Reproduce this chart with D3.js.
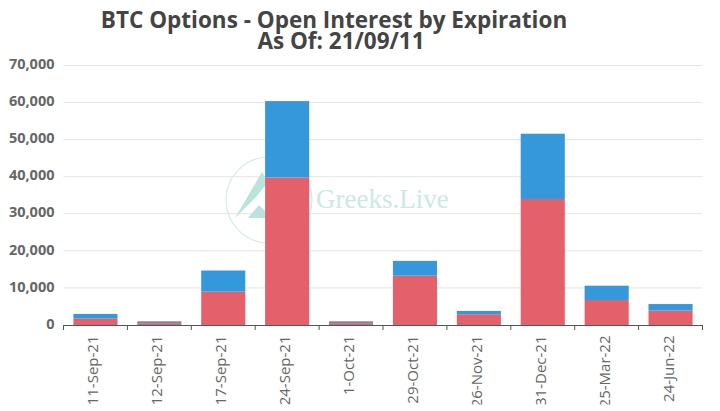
<!DOCTYPE html>
<html>
<head>
<meta charset="utf-8">
<script src="https://cdn.jsdelivr.net/npm/d3@7"></script>
<style>
  html, body { margin: 0; padding: 0; background: #fff; overflow: hidden; }
</style>
</head>
<body>
<div id="chart"></div>
<script>
const expiries = ['11-Sep-21', '12-Sep-21', '17-Sep-21', '24-Sep-21', '1-Oct-21', '29-Oct-21', '26-Nov-21', '31-Dec-21', '25-Mar-22', '24-Jun-22'];
const redValues = [1800, 500, 9000, 39800, 500, 13300, 2900, 34000, 6750, 3900];
const blueValues = [1200, 500, 5700, 20600, 500, 4000, 900, 17600, 3850, 1750];
const yTicks = [0, 10000, 20000, 30000, 40000, 50000, 60000, 70000];
const titleLines = ['BTC Options - Open Interest by Expiration', 'As Of: 21/09/11'];

const RED = '#e4606a';
const BLUE = '#3498db';
const THIN = '#a3778f'; // the two colours run together on the tiniest bars

const width = 720, height = 411;
const margin = { top: 65.5, right: 17.5, bottom: 86, left: 63.5 };
const font = '"Open Sans", "Noto Sans", sans-serif';

const svg = d3.select('#chart').append('svg')
  .attr('width', width).attr('height', height)
  .style('display', 'block');

// the x labels are cut off just above the bottom edge
svg.append('clipPath').attr('id', 'label-clip').append('rect')
  .attr('x', 0).attr('y', 0).attr('width', width).attr('height', 404.5);

const x = d3.scaleBand().domain(expiries).range([margin.left, width - margin.right]).paddingInner(0.31).paddingOuter(0.155);
const y = d3.scaleLinear().domain([0, 70000]).range([height - margin.bottom, margin.top]);

// gridlines
svg.append('g').selectAll('line').data(yTicks.slice(1)).enter().append('line')
  .attr('x1', margin.left).attr('x2', width - margin.right)
  .attr('y1', d => y(d)).attr('y2', d => y(d))
  .attr('stroke', '#e4e4e4').attr('stroke-width', 1);

// watermark sits behind the bars
const mark = svg.append('g');
mark.append('circle').attr('cx', 269).attr('cy', 200).attr('r', 43)
  .attr('fill', 'none').attr('stroke', '#d3ece8').attr('stroke-width', 1.2);
mark.append('path').attr('d', 'M262,172 L235,218 L256,197 L268,182 Z').attr('fill', '#b8e4dd');
mark.append('path').attr('d', 'M248,218 L259,205 L272,218 Z').attr('fill', '#b8e4dd');
mark.append('text').attr('x', 316).attr('y', 208)
  .style('font-family', '"Liberation Serif", serif').style('font-size', '27px')
  .style('fill', '#cbe9e4').text('Greeks.Live');

// bars
const isThin = i => redValues[i] + blueValues[i] < 1500;
const bars = svg.append('g');
bars.selectAll('.red').data(expiries).enter().append('rect')
  .attr('x', d => x(d)).attr('width', x.bandwidth())
  .attr('y', (_, i) => y(redValues[i]))
  .attr('height', (_, i) => y(0) - y(redValues[i]))
  .attr('fill', (_, i) => isThin(i) ? THIN : RED);
bars.selectAll('.blue').data(expiries).enter().append('rect')
  .attr('x', d => x(d)).attr('width', x.bandwidth())
  .attr('y', (_, i) => y(redValues[i] + blueValues[i]))
  .attr('height', (_, i) => y(redValues[i]) - y(redValues[i] + blueValues[i]))
  .attr('fill', (_, i) => isThin(i) ? THIN : BLUE);

// axes
const yAxis = svg.append('g').attr('transform', `translate(${margin.left},0)`)
  .call(d3.axisLeft(y).tickValues(yTicks).tickFormat(d3.format(',')).tickSize(0).tickPadding(9));
yAxis.select('.domain').remove();
yAxis.selectAll('text')
  .attr('dy', '0.22em')
  .style('font-family', font).style('font-size', '14.5px').style('font-weight', 700).style('fill', '#666');

const xAxis = svg.append('g').attr('clip-path', 'url(#label-clip)')
  .append('g').attr('transform', `translate(0,${y(0)})`)
  .call(d3.axisBottom(x).tickSize(0).tickFormat(d => d));
xAxis.select('.domain').attr('stroke', '#555').attr('stroke-width', 1);
xAxis.selectAll('text')
  .attr('transform', 'rotate(-90)')
  .attr('x', -10.5).attr('y', 0).attr('dx', 0).attr('dy', '0.2em')
  .attr('text-anchor', 'end')
  .style('font-family', font).style('font-size', '15px').style('fill', '#666');

// ticks fall between the categories
svg.append('g').selectAll('line').data(d3.range(expiries.length + 1)).enter().append('line')
  .attr('x1', i => x.range()[0] + i * x.step()).attr('x2', i => x.range()[0] + i * x.step())
  .attr('y1', y(0)).attr('y2', y(0) + 5)
  .attr('stroke', '#555').attr('stroke-width', 1);

// title
const titleX = [334, 341];
svg.append('g').selectAll('text').data(titleLines).enter().append('text')
  .attr('x', (_, i) => titleX[i]).attr('y', (_, i) => 27.5 + i * 21.5)
  .attr('text-anchor', 'middle')
  .style('font-family', font).style('font-size', '22.5px').style('font-weight', 700).style('fill', '#444')
  .text(d => d);
</script>
</body>
</html>
